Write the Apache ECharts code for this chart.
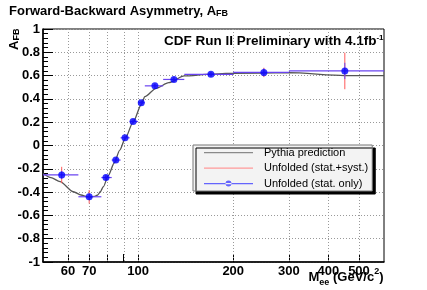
<!DOCTYPE html>
<html><head><meta charset="utf-8">
<script src="https://cdn.jsdelivr.net/npm/echarts@6/dist/echarts.min.js"></script>
<style>html,body{margin:0;padding:0;background:#fff}#c{width:427px;height:290px}</style>
</head><body><div id="c"></div>
<script>
// ---- data ----
const massCenter   = [57.3, 70.0, 79.1, 85.0, 90.9, 96.4, 102.3, 113.0, 129.8, 170, 250, 451];
const afb          = [-0.253, -0.440, -0.275, -0.125, 0.066, 0.206, 0.367, 0.512, 0.567, 0.611, 0.627, 0.640];
const binLow       = [45, 64.7, 76.5, 82.5, 88, 94, 100, 105, 120, 140, 200, 300];
const binHigh      = [64.7, 76.5, 82.5, 88, 94, 100, 105, 120, 140, 200, 300, 600];
const errStatSyst  = [0.07, 0.058, 0.022, 0.02, 0.018, 0.018, 0.018, 0.02, 0.02, 0.02, 0.04, 0.157];
const errStat      = [0.035, 0.028, 0.018, 0.016, 0.015, 0.015, 0.015, 0.016, 0.017, 0.018, 0.035, 0.07];
const pythiaMass   = [50, 53, 56.6, 62.4, 66, 68.9, 71, 72.6, 74.5, 76, 77.6, 80.5, 84, 87.5, 91, 96.4, 102.3, 105, 114, 125, 140, 170, 200, 300, 450, 600];
const pythiaAfb    = [-0.24, -0.275, -0.31, -0.397, -0.425, -0.44, -0.442, -0.437, -0.425, -0.395, -0.354, -0.257, -0.15, -0.04, 0.06, 0.2, 0.35, 0.419, 0.491, 0.539, 0.597, 0.612, 0.62, 0.625, 0.60, 0.60];
const xLabelValues = [60, 70, 100, 200, 300, 400, 500];
const xTickValues  = [60, 70, 80, 90, 100, 200, 300, 400, 500];
const legendNames  = ['Pythia prediction', 'Unfolded (stat.+syst.)', 'Unfolded (stat. only)'];

const F = 'Liberation Sans, Arial, Helvetica, sans-serif';
const chart = echarts.init(document.getElementById('c'), null, {renderer: 'canvas'});
const pts = massCenter.map((m, i) => [m, afb[i], binLow[i], binHigh[i], errStatSyst[i], errStat[i]]);
const pythia = pythiaMass.map((m, i) => [m, pythiaAfb[i]]);

function bars(errIdx, vColor, hColor) {
  return function (params, api) {
    const x = api.value(0), y = api.value(1), e = api.value(errIdx);
    const c = api.coord([x, y]), t = api.coord([x, y + e]), b = api.coord([x, y - e]);
    const ch = [{type: 'line', shape: {x1: c[0], y1: t[1], x2: c[0], y2: b[1]}, style: {stroke: vColor, lineWidth: 1}}];
    if (hColor) {
      const l = api.coord([api.value(2), y]), r = api.coord([api.value(3), y]);
      ch.push({type: 'line', shape: {x1: l[0], y1: c[1], x2: r[0], y2: c[1]}, style: {stroke: hColor, lineWidth: 1.2}});
    }
    return {type: 'group', children: ch};
  };
}
// vertical dotted grid lines at the log-axis tick values
function vGrid(params, api) {
  const top = api.coord([api.value(0), 1]), bot = api.coord([api.value(0), -1]);
  return {type: 'line', shape: {x1: Math.round(top[0]) + 0.5, y1: top[1], x2: Math.round(top[0]) + 0.5, y2: bot[1]},
    style: {stroke: '#999', lineWidth: 1, lineDash: [1, 2]}};
}
const edge = 'M0,0h0.01v0.01z M0,11h0.01v-0.01z ';
const grayIcon = 'path://' + edge + 'M0,5h49v1.2h-49z';
const redIcon = 'path://' + edge + 'M0,5h49v1.3h-49z';
const blueIcon = 'path://' + edge + 'M0,5h49v1.2h-49z M21.5,5.6 a3,3 0 1,0 6,0 a3,3 0 1,0 -6,0z';

chart.setOption({
  animation: false,
  backgroundColor: '#fff',
  grid: {left: 43, right: 43, top: 29, bottom: 28, show: true, borderColor: '#000', borderWidth: 1, backgroundColor: 'transparent'},
  legend: {
    orient: 'vertical', left: 193, top: 145, itemWidth: 49, itemHeight: 11, itemGap: 4.5,
    padding: [2, 4, 2, 11], backgroundColor: '#f3f3f3', borderColor: '#777', borderWidth: 1,
    shadowColor: '#000', shadowBlur: 0, shadowOffsetX: 3, shadowOffsetY: 3,
    selectedMode: false, textStyle: {fontFamily: F, fontSize: 11, color: '#000', padding: [0, 0, 0, 6]},
    data: [
      {name: legendNames[0], icon: grayIcon, itemStyle: {color: '#8a8a8a'}},
      {name: legendNames[1], icon: redIcon, itemStyle: {color: '#ff9a9a'}},
      {name: legendNames[2], icon: blueIcon, itemStyle: {color: '#4040ff'}}
    ]
  },
  xAxis: {
    type: 'log', logBase: 10, min: 50, max: 600,
    axisLine: {show: true, onZero: false, lineStyle: {color: '#000', width: 1.5}},
    axisTick: {show: true, inside: true, length: 8, customValues: xTickValues, lineStyle: {color: '#000'}},
    minorTick: {show: false},
    axisLabel: {customValues: xLabelValues, fontFamily: F, fontSize: 13, fontWeight: 'bold', color: '#000', margin: 3},
    splitLine: {show: false}
  },
  yAxis: {
    type: 'value', min: -1, max: 1, interval: 0.2,
    axisLine: {show: true, onZero: false, lineStyle: {color: '#000', width: 1.5}},
    axisTick: {show: true, inside: true, length: 10, lineStyle: {color: '#000'}},
    minorTick: {show: true, splitNumber: 5, length: 5, lineStyle: {color: '#000'}},
    axisLabel: {fontFamily: F, fontSize: 13, fontWeight: 'bold', color: '#000', margin: 3,
      formatter: v => (Math.abs(v) < 1e-9 ? '0' : String(Math.round(v * 10) / 10))},
    splitLine: {show: true, lineStyle: {color: '#999', type: [1, 2], width: 1}}
  },
  series: [
    {name: 'grid', type: 'custom', data: xTickValues.map(v => [v]), renderItem: vGrid, encode: {x: 0}, silent: true, z: 1},
    {name: legendNames[0], type: 'line', data: pythia, smooth: 0.25, smoothMonotone: 'x', showSymbol: false, symbol: 'none',
      lineStyle: {color: '#555', width: 1.3}, itemStyle: {color: '#888'}, z: 2},
    {name: legendNames[1], type: 'custom', data: pts, clip: true, renderItem: bars(4, '#ff5a5a', null),
      itemStyle: {color: '#ff9a9a'}, encode: {x: 0, y: 1}, z: 3},
    {name: 'statBars', type: 'custom', data: pts, clip: true, renderItem: bars(5, '#6a4cf0', '#6a44f0'),
      encode: {x: 0, y: 1}, z: 4},
    {name: legendNames[2], type: 'scatter', data: pts.map(p => [p[0], p[1]]), symbol: 'circle', symbolSize: 7,
      itemStyle: {color: '#0000ff'}, z: 5}
  ],
  graphic: [
    {type: 'text', left: 9, top: 2, style: {text: '{m|Forward-Backward Asymmetry, A}{s|FB}', rich: {
      m: {fontFamily: F, fontSize: 13, fontWeight: 'bold', lineHeight: 13, verticalAlign: 'top', fill: '#000'},
      s: {fontFamily: F, fontSize: 9, fontWeight: 'bold', lineHeight: 9, padding: [7, 0, 0, 0], verticalAlign: 'bottom', fill: '#000'}}}},
    {type: 'text', x: 383.5, y: 34, style: {text: '{m|CDF Run II Preliminary with 4.1fb}{p|-1}', align: 'right', verticalAlign: 'top',
      textAlign: 'right', textVerticalAlign: 'top', rich: {
      m: {fontFamily: F, fontSize: 13.5, fontWeight: 'bold', lineHeight: 14, verticalAlign: 'bottom', fill: '#000'},
      p: {fontFamily: F, fontSize: 8, fontWeight: 'bold', lineHeight: 8, verticalAlign: 'top', fill: '#000'}}}},
    {type: 'text', x: 14.2, y: 50, rotation: Math.PI / 2, style: {text: '{m|A}{s|FB}', align: 'left', verticalAlign: 'middle',
      textAlign: 'left', textVerticalAlign: 'middle', rich: {
      m: {fontFamily: F, fontSize: 13, fontWeight: 'bold', lineHeight: 13, padding: [0, 0, 4, 0], verticalAlign: 'top', fill: '#000'},
      s: {fontFamily: F, fontSize: 9, fontWeight: 'bold', lineHeight: 9, padding: [8, 0, 0, 0], verticalAlign: 'bottom', fill: '#000'}}}},
    {type: 'text', x: 383.5, y: 271, style: {text: '{m|M}{s|ee}{m| (GeV/c}{p|2}{m|)}', align: 'right', verticalAlign: 'top',
      textAlign: 'right', textVerticalAlign: 'top', rich: {
      m: {fontFamily: F, fontSize: 13, fontWeight: 'bold', lineHeight: 13, padding: [3, 0, 4, 0], verticalAlign: 'middle', fill: '#000'},
      s: {fontFamily: F, fontSize: 9, fontWeight: 'bold', lineHeight: 9, padding: [11, 0, 0, 0], verticalAlign: 'middle', fill: '#000'},
      p: {fontFamily: F, fontSize: 9, fontWeight: 'bold', lineHeight: 9, padding: [0, 0, 11, 0], verticalAlign: 'middle', fill: '#000'}}}}
  ]
});
</script></body></html>
